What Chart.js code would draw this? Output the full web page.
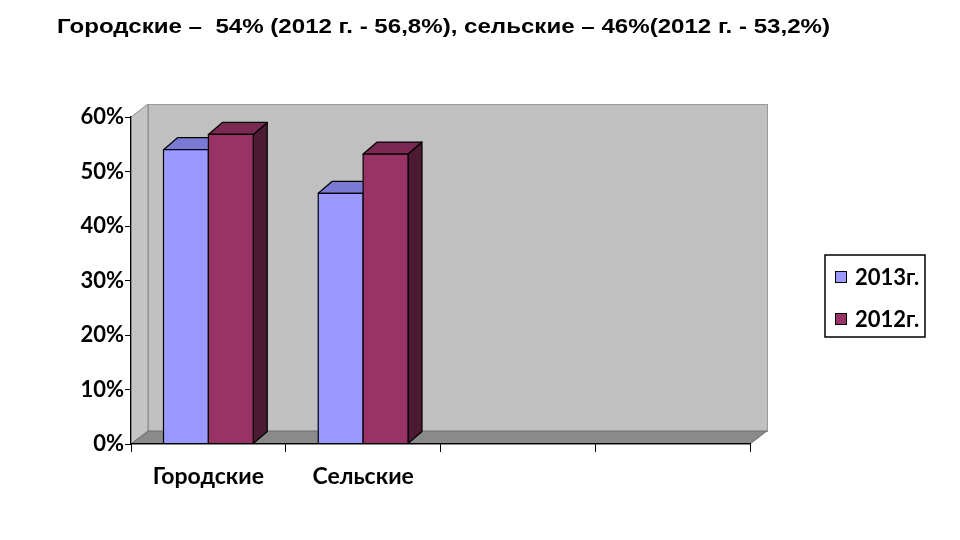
<!DOCTYPE html>
<html>
<head>
<meta charset="utf-8">
<script src="https://cdn.jsdelivr.net/npm/chart.js@4"></script>
<style>
  html, body { margin: 0; padding: 0; background: #ffffff; }
  #wrap { width: 960px; height: 540px; }
</style>
</head>
<body>
<div id="wrap"><canvas id="chart" width="960" height="540"></canvas></div>
<script>
// data
var categories = ["Городские", "Сельские", "", ""];
var seriesNames = ["2013г.", "2012г."];
var values2013 = [54, 46, null, null];
var values2012 = [56.8, 53.2, null, null];
var yTicks = [0, 10, 20, 30, 40, 50, 60];
var titleText = "Городские –  54% (2012 г. - 56,8%), сельские – 46%(2012 г. - 53,2%)";

var labelFont = "Lato, 'Open Sans', sans-serif";

// slide title, a little stretched sideways like the original
var titlePlugin = {
  id: "slideTitle",
  afterDraw: function (chart) {
    var ctx = chart.ctx;
    ctx.save();
    ctx.font = "bold 21px 'Liberation Sans', Arial, sans-serif";
    ctx.fillStyle = "#000000";
    ctx.textBaseline = "alphabetic";
    var w = ctx.measureText(titleText).width;
    var sx = 773 / w;
    ctx.translate(57, 32.5);
    ctx.scale(sx, 1);
    ctx.fillText(titleText, 0, 0);
    ctx.restore();
  }
};

// back wall, side wall and floor behind the bars
var wallPlugin = {
  id: "wall",
  beforeDraw: function (chart) {
    var ctx = chart.ctx;
    var a = chart.chartArea;
    var dx = 17, dy = 13;
    ctx.save();
    // back wall
    ctx.fillStyle = "#c0c0c0";
    ctx.fillRect(a.left + dx, a.top - dy, a.right - a.left, a.bottom - a.top);
    ctx.strokeStyle = "#9a9a9a";
    ctx.lineWidth = 1;
    ctx.strokeRect(a.left + dx + 0.5, a.top - dy + 0.5, a.right - a.left, a.bottom - a.top);
    // left side wall
    ctx.beginPath();
    ctx.moveTo(a.left, a.top);
    ctx.lineTo(a.left + dx, a.top - dy);
    ctx.lineTo(a.left + dx, a.bottom - dy);
    ctx.lineTo(a.left, a.bottom);
    ctx.closePath();
    ctx.fillStyle = "#c4c4c4";
    ctx.fill();
    ctx.strokeStyle = "#8c8c8c";
    ctx.stroke();
    // floor
    ctx.beginPath();
    ctx.moveTo(a.left, a.bottom);
    ctx.lineTo(a.left + dx, a.bottom - dy);
    ctx.lineTo(a.right + dx, a.bottom - dy);
    ctx.lineTo(a.right, a.bottom);
    ctx.closePath();
    ctx.fillStyle = "#8a8a8a";
    ctx.fill();
    ctx.strokeStyle = "#6e6e6e";
    ctx.stroke();
    ctx.restore();
  }
};

// draws each bar as a box: front, top and side faces
var boxPlugin = {
  id: "boxes",
  afterDatasetsDraw: function (chart) {
    var ctx = chart.ctx;
    var dx = 14, dy = 12;
    ctx.save();
    ctx.lineWidth = 1.2;
    ctx.strokeStyle = "#000000";
    ctx.lineJoin = "round";
    chart.data.datasets.forEach(function (ds, i) {
      var meta = chart.getDatasetMeta(i);
      meta.data.forEach(function (bar, j) {
        if (ds.data[j] === null) return;
        var l = bar.x - bar.width / 2, r = bar.x + bar.width / 2;
        var t = bar.y, b = bar.base;
        // side
        ctx.beginPath();
        ctx.moveTo(r, t);
        ctx.lineTo(r + dx, t - dy);
        ctx.lineTo(r + dx, b - dy);
        ctx.lineTo(r, b);
        ctx.closePath();
        ctx.fillStyle = ds.sideColor;
        ctx.fill();
        ctx.stroke();
        // top
        ctx.beginPath();
        ctx.moveTo(l, t);
        ctx.lineTo(l + dx, t - dy);
        ctx.lineTo(r + dx, t - dy);
        ctx.lineTo(r, t);
        ctx.closePath();
        ctx.fillStyle = ds.topColor;
        ctx.fill();
        ctx.stroke();
        // front
        ctx.fillStyle = ds.frontColor;
        ctx.fillRect(l, t, r - l, b - t);
        ctx.strokeRect(l, t, r - l, b - t);
      });
    });
    ctx.restore();
  }
};

// boxed legend on the right
var legendPlugin = {
  id: "boxLegend",
  afterDraw: function (chart) {
    var ctx = chart.ctx;
    var x = 825, y = 255, w = 100, h = 82;
    ctx.save();
    ctx.fillStyle = "#ffffff";
    ctx.fillRect(x, y, w, h);
    ctx.strokeStyle = "#000000";
    ctx.lineWidth = 1.5;
    ctx.strokeRect(x, y, w, h);
    ctx.font = "bold 22px " + labelFont;
    ctx.textBaseline = "middle";
    chart.data.datasets.forEach(function (ds, i) {
      var cy = y + 22 + i * 42;
      ctx.fillStyle = ds.frontColor;
      ctx.fillRect(x + 10, cy - 6, 12, 12);
      ctx.lineWidth = 1;
      ctx.strokeRect(x + 10.5, cy - 5.5, 11, 11);
      ctx.fillStyle = "#000000";
      ctx.fillText(ds.label, x + 30, cy + 1);
    });
    ctx.restore();
  }
};

var ctx = document.getElementById("chart").getContext("2d");
var chart = new Chart(ctx, {
  type: "bar",
  data: {
    labels: categories,
    datasets: [
      {
        label: seriesNames[0],
        data: values2013,
        backgroundColor: "rgba(0,0,0,0)",
        borderWidth: 0,
        frontColor: "#9999ff",
        topColor: "#7a7ad4",
        sideColor: "#4c4c80"
      },
      {
        label: seriesNames[1],
        data: values2012,
        backgroundColor: "rgba(0,0,0,0)",
        borderWidth: 0,
        frontColor: "#993366",
        topColor: "#7a2952",
        sideColor: "#4d1a33"
      }
    ]
  },
  options: {
    responsive: false,
    animation: false,
    layout: { padding: { left: 57, right: 210, top: 117, bottom: 0 } },
    datasets: {
      bar: { barPercentage: 1, categoryPercentage: 0.58 }
    },
    plugins: {
      legend: { display: false },
      tooltip: { enabled: false },
      title: { display: false }
    },
    scales: {
      x: {
        grid: { display: true, drawOnChartArea: false, tickLength: 8, color: "#000000", offset: true },
        border: { display: true, color: "#000000", width: 1.2 },
        ticks: {
          color: "#000000",
          padding: 11,
          maxRotation: 0,
          font: { family: labelFont, size: 23, weight: "bold" }
        },
        afterFit: function (scale) { scale.height = 96; }
      },
      y: {
        min: 0,
        max: 60,
        afterBuildTicks: function (scale) {
          scale.ticks = yTicks.map(function (v) { return { value: v }; });
        },
        grid: { display: true, drawOnChartArea: false, tickLength: 6, color: "#000000" },
        border: { display: true, color: "#000000", width: 1.2 },
        ticks: {
          color: "#000000",
          padding: 1,
          font: { family: labelFont, size: 22, weight: "bold" },
          callback: function (v) { return v + "%"; }
        },
        afterFit: function (scale) { scale.width = 74; }
      }
    }
  },
  plugins: [wallPlugin, boxPlugin, legendPlugin, titlePlugin]
});
</script>
</body>
</html>
